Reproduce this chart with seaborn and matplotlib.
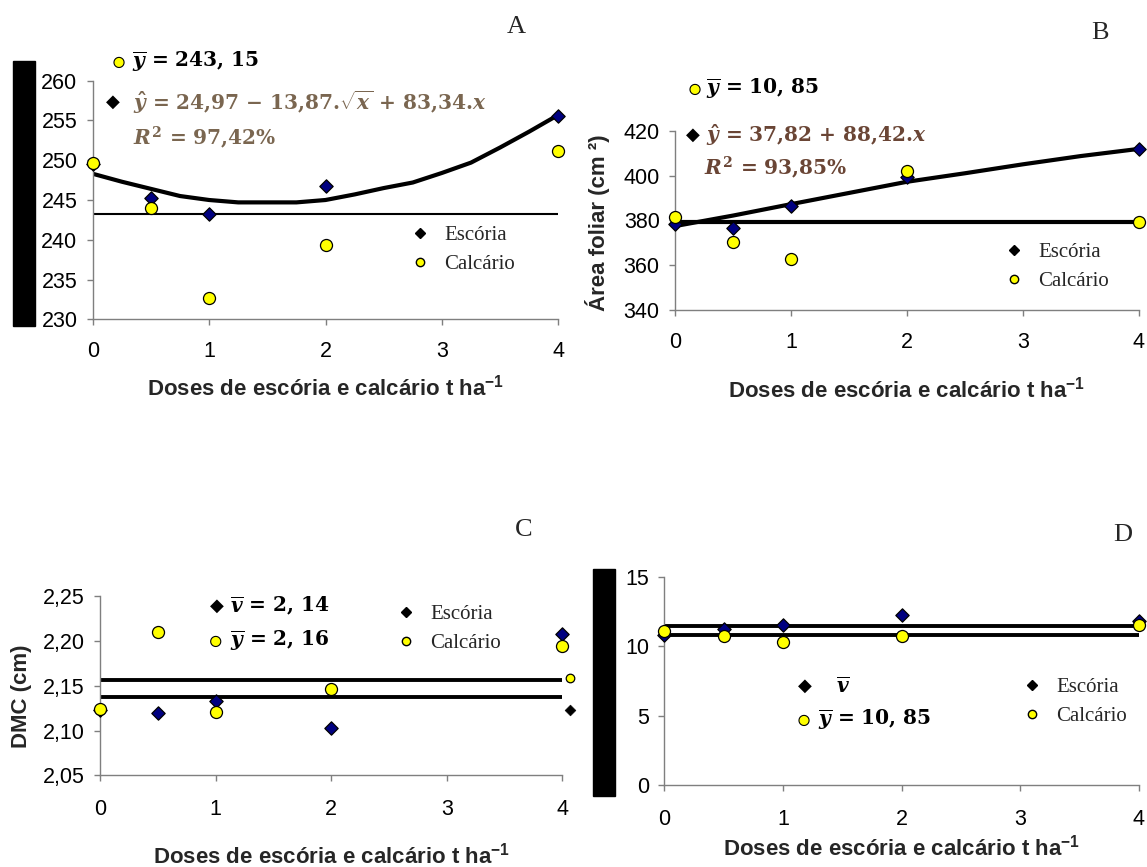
import matplotlib
matplotlib.use('Agg')
import matplotlib.pyplot as plt
import matplotlib.patheffects as pe
import seaborn as sns
import numpy as np
from matplotlib.lines import Line2D
from matplotlib.patches import Rectangle
from matplotlib.ticker import FuncFormatter

# ========== data ==========
doses = [0, 0.5, 1, 2, 4]
dose_ticks = [0, 1, 2, 3, 4]

# A - (no y label in the source, hidden by a black bar)
a_escoria = [249.5, 245.2, 243.3, 246.8, 255.6]
a_calcario = [249.7, 244.0, 232.7, 239.3, 251.1]
a_curve_x = [0, 0.25, 0.5, 0.75, 1, 1.25, 1.5, 1.75, 2, 2.25, 2.5, 2.75, 3, 3.25, 3.5, 3.75, 4]
a_curve_y = [248.3, 247.3, 246.4, 245.5, 245.0, 244.7, 244.7, 244.7, 245.0, 245.7,
             246.5, 247.2, 248.4, 249.7, 251.6, 253.6, 255.7]
a_mean = 243.2
a_yticks = [230, 235, 240, 245, 250, 255, 260]

# B - leaf area
b_escoria = [378.4, 376.8, 386.6, 399.6, 412.0]
b_calcario = [381.4, 370.5, 362.6, 402.1, 379.5]
b_trend_x = [0, 0.5, 1, 1.5, 2, 2.5, 3, 3.5, 4]
b_trend_y = [377.5, 382.2, 387.3, 392.3, 397.3, 401.1, 405.1, 408.8, 412.0]
b_mean = 379.2
b_yticks = [340, 360, 380, 400, 420]

# C - DMC
c_escoria = [2.123, 2.120, 2.133, 2.103, 2.208]
c_calcario = [2.124, 2.210, 2.121, 2.146, 2.195]
c_means = [2.138, 2.157]
c_key_x = [4.07]
c_key_escoria = [2.123]
c_key_calcario = [2.159]
c_yticks = [2.05, 2.10, 2.15, 2.20, 2.25]

# D
d_escoria = [10.85, 11.25, 11.57, 12.3, 11.82]
d_calcario = [11.1, 10.72, 10.3, 10.78, 11.57]
d_means = [11.48, 10.85]
d_yticks = [0, 5, 10, 15]

xlabel = r'Doses de escória e calcário t ha$^{\mathsf{-1}}$'

W, H = 1147, 867
NAVY = '#000080'
YELLOW = '#ffff00'
SPINE = '#7f7f7f'

sns.set_theme(style='ticks')
plt.rcParams['font.family'] = ['Liberation Sans', 'DejaVu Sans']
plt.rcParams['mathtext.fontset'] = 'custom'
plt.rcParams['mathtext.rm'] = 'DejaVu Serif:bold'
plt.rcParams['mathtext.it'] = 'DejaVu Serif:italic:bold'
plt.rcParams['mathtext.bf'] = 'DejaVu Serif:bold'
plt.rcParams['mathtext.sf'] = 'Liberation Sans:bold'

fig = plt.figure(figsize=(W / 100, H / 100), dpi=100)
fig.patch.set_facecolor('white')


def fx(x):
    return x / W


def fy(y):
    return 1 - y / H


def px_rect(l, t, r, b):
    return [l / W, 1 - b / H, (r - l) / W, (b - t) / H]


def make_axes(rect, ylim, yticks, xpad, label_y):
    ax = fig.add_axes(rect)
    ax.set_xlim(0, 4)
    ax.set_ylim(*ylim)
    ax.set_xticks(dose_ticks)
    ax.set_yticks(yticks)
    sns.despine(ax=ax)
    for s in ['left', 'bottom']:
        ax.spines[s].set_color(SPINE)
        ax.spines[s].set_linewidth(1)
    ax.tick_params(axis='both', direction='out', length=4, width=1, color=SPINE,
                   labelsize=15.5, labelcolor='black')
    ax.tick_params(axis='x', pad=xpad)
    ax.tick_params(axis='y', pad=7)
    ax.set_xlabel(xlabel, fontsize=16, fontweight='bold', va='center')
    ax.xaxis.set_label_coords(0.5, label_y)
    ax.set_facecolor('white')
    return ax


def points(ax, esc, cal):
    sns.scatterplot(x=doses, y=esc, ax=ax, marker='D', s=46, color=NAVY,
                    edgecolor='black', linewidth=0.9, zorder=3, clip_on=False)
    sns.scatterplot(x=doses, y=cal, ax=ax, marker='o', s=75, color=YELLOW,
                    edgecolor='black', linewidth=0.9, zorder=4, clip_on=False)


def series_legend(ax, left, center_y):
    handles = [Line2D([], [], ls='', marker='D', ms=5.5, mfc='black', mec='black'),
               Line2D([], [], ls='', marker='o', ms=6, mfc=YELLOW, mec='black', mew=1)]
    ax.legend(handles, ['Escória', 'Calcário'], loc='center left',
              bbox_to_anchor=(fx(left), fy(center_y)), bbox_transform=fig.transFigure,
              frameon=False, borderpad=0, borderaxespad=0, handlelength=1.0,
              handletextpad=0.65, labelspacing=0.45,
              prop={'family': 'Liberation Serif', 'size': 15})


def key(x, y, kind):
    if kind == 'D':
        fig.text(fx(x), fy(y), '◆', ha='center', va='center', fontsize=13,
                 color='black', family='DejaVu Sans')
    else:
        fig.text(fx(x), fy(y), '●', ha='center', va='center', fontsize=8.5,
                 color=YELLOW, family='DejaVu Sans',
                 path_effects=[pe.withStroke(linewidth=1.6, foreground='black')])


def note(x, y, s, color='black'):
    fig.text(fx(x), fy(y), s, ha='left', va='center', fontsize=14.5,
             fontweight='bold', family='DejaVu Serif', color=color)


def letter(x, y, s):
    fig.text(fx(x), fy(y), s, ha='center', va='center', fontsize=19,
             family='Liberation Serif')


comma_fmt = FuncFormatter(lambda v, p: f'{v:.2f}'.replace('.', ','))

# ========== A ==========
axA = make_axes(px_rect(92.7, 80.7, 558.3, 319.3), (230, 260), a_yticks, 11.5, -0.284)
axA.axhline(a_mean, color='black', lw=1.5, zorder=2)
sns.lineplot(x=a_curve_x, y=a_curve_y, ax=axA, color='black', lw=3, zorder=2,
             estimator=None, sort=False)
points(axA, a_escoria, a_calcario)
series_legend(axA, 409.6, 250)
key(119, 62, 'o')
note(132, 62, r'$\overline{y}$ = 243, 15')
key(113, 102, 'D')
note(133, 102, r'$\hat{y}$ = 24,97 − 13,87.$\sqrt{x}$ + 83,34.$x$', color='#7a6650')
note(133, 138, r'$R^2$ = 97,42%', color='#7a6650')
letter(516.7, 27, 'A')
fig.add_artist(Rectangle((fx(13), fy(325.7)), (35 - 13) / W, (325.7 - 61) / H,
                         transform=fig.transFigure, color='black'))

# ========== B ==========
axB = make_axes(px_rect(675, 131, 1138.7, 310), (340, 420), b_yticks, 11.5, -0.447)
axB.axhline(b_mean, color='black', lw=3, zorder=2)
sns.lineplot(x=b_trend_x, y=b_trend_y, ax=axB, color='black', lw=3, zorder=2,
             estimator=None, sort=False)
points(axB, b_escoria, b_calcario)
axB.set_ylabel('Área foliar (cm ²)', fontsize=16, fontweight='bold', va='center')
axB.yaxis.set_label_coords(-0.168, 0.486)
series_legend(axB, 1003.6, 267)
key(695, 89, 'o')
note(706, 89, r'$\overline{y}$ = 10, 85')
key(693, 135, 'D')
note(706, 135, r'$\hat{y}$ = 37,82 + 88,42.$x$', color='#6a4535')
note(704, 168, r'$R^2$ = 93,85%', color='#6a4535')
letter(1100, 33, 'B')

# ========== C ==========
axC = make_axes(px_rect(100, 596.3, 562.3, 775.3), (2.05, 2.25), c_yticks, 12.8, -0.451)
axC.yaxis.set_major_formatter(comma_fmt)
for m in c_means:
    axC.axhline(m, color='black', lw=2.8, zorder=2)
points(axC, c_escoria, c_calcario)
sns.scatterplot(x=c_key_x, y=c_key_escoria, ax=axC, marker='D', s=30, color='black',
                edgecolor='black', zorder=4, clip_on=False)
sns.scatterplot(x=c_key_x, y=c_key_calcario, ax=axC, marker='o', s=38, color=YELLOW,
                edgecolor='black', linewidth=0.9, zorder=4, clip_on=False)
axC.set_ylabel('DMC (cm)', fontsize=16, fontweight='bold', va='center')
axC.yaxis.set_label_coords(-0.169, 0.443)
series_legend(axC, 395.6, 629)
key(216.7, 606, 'D')
note(230, 606, r'$\overline{v}$ = 2, 14')
key(215.7, 641, 'o')
note(230, 641, r'$\overline{y}$ = 2, 16')
letter(524, 530, 'C')

# ========== D ==========
axD = make_axes(px_rect(664.3, 577.3, 1138.7, 784.7), (0, 15), d_yticks, 13.2, -0.305)
for m in d_means:
    axD.axhline(m, color='black', lw=2.8, zorder=2)
points(axD, d_escoria, d_calcario)
series_legend(axD, 1021.6, 702)
key(805, 686, 'D')
note(836, 686, r'$\overline{v}$')
key(804, 720, 'o')
note(818, 720, r'$\overline{y}$ = 10, 85')
letter(1123, 535, 'D')
fig.add_artist(Rectangle((fx(593), fy(795.7)), (615 - 593) / W, (795.7 - 569) / H,
                         transform=fig.transFigure, color='black'))

fig.savefig('out.png', dpi=100, facecolor='white')
